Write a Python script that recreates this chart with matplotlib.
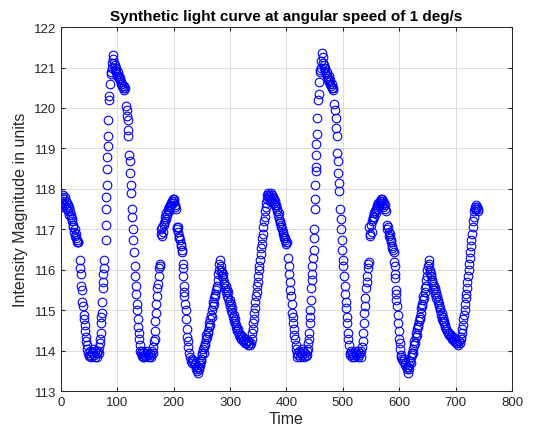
import matplotlib
matplotlib.use("Agg")
import matplotlib.pyplot as plt
import numpy as np

# (time, intensity) pairs, first rotation
rotation_1 = [
    (0, 117.55), (1, 117.8), (2, 117.7), (3, 117.85), (4, 117.65), (5, 117.75), (6, 117.6), (7, 117.8),
    (8, 117.7), (9, 117.55), (10, 117.65), (11, 117.5), (12, 117.6), (13, 117.45), (14, 117.55), (15, 117.35),
    (16, 117.45), (17, 117.3), (18, 117.35), (19, 117.2), (20, 117.25), (21, 117.1), (22, 117.05), (23, 116.95),
    (24, 117.0), (25, 116.85), (26, 116.9), (27, 116.8), (28, 116.75), (29, 116.7), (30, 116.68), (31, 116.7),
    (33, 116.25), (34, 116.05), (35, 115.9), (36, 115.6), (37, 115.5), (38, 115.2), (39, 115.1), (40, 114.9),
    (41, 114.8), (42, 114.65), (43, 114.5), (44, 114.35), (45, 114.25), (46, 114.15), (47, 114.05), (48, 113.95),
    (49, 113.88), (51, 113.9), (52, 114.0), (54, 113.85), (55, 113.95), (57, 114.05), (58, 113.9), (60, 114.0),
    (61, 113.85), (63, 113.95), (64, 113.85), (66, 114.0), (67, 113.95), (68, 114.1), (69, 114.2), (70, 114.3),
    (70.5, 114.45), (71, 114.7), (71.5, 114.85), (72, 114.95), (73, 115.2), (74, 115.55), (74.5, 115.7), (75, 115.9),
    (76, 116.05), (77, 116.25), (79, 116.75), (79.5, 117.1), (80, 117.5), (80.5, 117.8), (81, 118.1), (81.5, 118.5),
    (82, 118.8), (82.5, 119.05), (83, 119.3), (83.5, 119.7), (85, 120.2), (86, 120.3), (87, 120.6), (88, 120.9),
    (89, 120.85), (90, 121.1), (91, 121.0), (92, 121.3), (93, 121.2), (94, 121.1), (95, 120.95), (96, 121.05),
    (97, 120.9), (98, 121.0), (99, 120.8), (100, 120.85), (101, 120.9), (102, 120.75), (103, 120.8), (104, 120.7),
    (105, 120.75), (106, 120.6), (107, 120.65), (108, 120.55), (109, 120.6), (110, 120.5), (111, 120.55), (112, 120.45),
    (113, 120.5), (116, 120.05), (116.5, 119.95), (117, 119.8), (118, 119.7), (119, 119.45), (119.5, 119.3), (121, 118.85),
    (122, 118.7), (123, 118.4), (124, 118.1), (125, 117.9), (126, 117.5), (126.5, 117.3), (127.5, 117.0), (128, 116.75),
    (129.5, 116.45), (130.5, 116.1), (131.5, 115.85), (132.5, 115.6), (133, 115.4), (134, 115.15), (135, 115.0), (136, 114.8),
    (137, 114.6), (138, 114.45), (139, 114.3), (140, 114.15), (141, 114.0), (142, 113.95), (143, 113.88), (144, 114.0),
    (145, 113.85), (146, 113.95), (147, 113.9), (148, 113.85), (150, 113.95), (151, 113.88), (153, 114.0), (154, 113.9),
    (156, 113.85), (157, 113.95), (159, 113.9), (160, 113.85), (162, 114.0), (163, 113.95), (164, 114.1), (165, 114.25),
    (166, 114.3), (166.5, 114.5), (167, 114.75), (168, 114.95), (169, 115.15), (170, 115.35), (171, 115.55), (172, 115.65),
    (173, 115.85), (174, 116.05), (175, 116.1), (176, 116.15), (177, 117.0), (178, 116.9), (179, 116.85), (180, 117.05),
    (181, 116.95), (182, 117.1), (183, 117.15), (184, 117.2), (185, 117.3), (186, 117.25), (187, 117.4), (188, 117.35),
    (189, 117.45), (190, 117.5), (191, 117.55), (192, 117.45), (193, 117.6), (194, 117.55), (195, 117.65), (196, 117.6),
    (197, 117.7), (198, 117.65), (199, 117.75), (200, 117.7), (201, 117.75), (202, 117.6), (203, 117.55), (204, 117.5),
    (205, 117.05), (206, 117.0), (207, 117.05), (208, 116.95), (209, 116.85), (210, 116.8), (211, 116.75), (212, 116.65),
    (213, 116.6), (214, 116.5), (215, 116.45), (216, 116.15), (216.5, 116.05), (217, 115.85), (218, 115.6), (218.5, 115.45),
    (219, 115.35), (220, 115.15), (221, 115.0), (222, 114.8), (223, 114.55), (224, 114.35), (225, 114.25), (226, 114.1),
    (227, 113.95), (228, 113.85), (230, 113.75), (232, 113.8), (233, 113.7), (235, 113.75), (237, 113.65), (238, 113.7),
    (240, 113.55), (241, 113.6), (242, 113.5), (243, 113.45), (244, 113.6), (245, 113.55), (246, 113.65), (247, 113.7),
    (248, 113.8), (249, 113.75), (250, 113.9), (251, 113.95), (252, 114.05), (253, 113.95), (254, 114.1), (255, 114.2),
    (256, 114.15), (257, 114.3), (258, 114.4), (259, 114.35), (260, 114.5), (261, 114.45), (262, 114.6), (263, 114.7),
    (264, 114.65), (265, 114.8), (266, 114.9), (267, 114.85), (268, 115.0), (269, 115.1), (270, 115.2), (271, 115.15),
    (272, 115.3), (273, 115.4), (274, 115.35), (275, 115.5), (276, 115.6), (277, 115.55), (278, 115.75), (279, 115.9),
    (280, 116.0), (281, 116.15), (282, 116.25), (283, 116.1), (284, 116.0), (285, 115.95), (286, 115.85), (287, 115.8),
    (288, 115.9), (289, 115.7), (290, 115.65), (291, 115.55), (292, 115.6), (293, 115.45), (294, 115.5), (295, 115.35),
    (296, 115.3), (297, 115.45), (298, 115.2), (299, 115.25), (300, 115.1), (301, 115.15), (302, 115.0), (303, 114.95),
    (304, 115.05), (305, 114.85), (306, 114.9), (307, 114.75), (308, 114.8), (309, 114.7), (310, 114.6), (311, 114.65),
    (312, 114.55), (313, 114.5), (314, 114.55), (315, 114.45), (316, 114.4), (318, 114.35), (319, 114.4), (320, 114.3),
    (322, 114.35), (323, 114.25), (325, 114.3), (326, 114.2), (328, 114.25), (329, 114.2), (331, 114.15), (332, 114.25),
    (334, 114.2), (335, 114.15), (337, 114.2), (338, 114.3), (339, 114.45), (340, 114.55), (341, 114.7), (342, 114.8),
    (343, 114.95), (344, 115.05), (345, 115.2), (346, 115.35), (347, 115.45), (348, 115.6), (349, 115.7), (350, 115.85),
    (351, 116.0), (352, 116.1), (353, 116.25), (354, 116.4), (355, 116.55), (356, 116.65), (357, 116.8), (358, 116.9),
    (359, 117.05), (360, 117.2), (361, 117.3), (362, 117.45), (363, 117.55), (364, 117.65), (365, 117.75), (366, 117.85),
    (367, 117.9), (368, 117.8), (369, 117.85), (370, 117.7),
]

# second rotation
rotation_2 = [
    (371, 117.8), (372, 117.9), (373, 117.75), (374, 117.85), (375, 117.7), (376, 117.8), (377, 117.65), (378, 117.75),
    (379, 117.6), (380, 117.7), (381, 117.55), (382, 117.6), (383, 117.45), (384, 117.5), (385, 117.35), (386, 117.4),
    (387, 117.25), (388, 117.2), (389, 117.15), (390, 117.1), (391, 117.05), (392, 117.0), (393, 116.95), (394, 116.9),
    (395, 116.85), (396, 116.8), (397, 116.75), (398, 116.8), (399, 116.7), (400, 116.65), (401, 116.7), (403, 116.3),
    (404, 116.1), (405, 115.9), (406, 115.7), (407, 115.5), (408, 115.35), (409, 115.15), (410, 114.95), (411, 114.85),
    (412, 114.7), (413, 114.55), (414, 114.4), (415, 114.3), (416, 114.15), (417, 114.05), (418, 113.95), (419, 113.85),
    (421, 113.9), (422, 114.0), (424, 113.85), (425, 113.95), (427, 114.05), (428, 113.9), (430, 114.0), (431, 113.85),
    (433, 113.95), (434, 113.88), (436, 114.0), (437, 113.9), (438, 114.05), (439, 114.2), (440, 114.3), (440.5, 114.45),
    (441, 114.7), (441.5, 114.85), (442, 115.0), (443, 115.25), (444, 115.55), (444.5, 115.75), (445, 115.9), (446, 116.1),
    (447, 116.3), (448, 116.5), (449, 116.8), (449.5, 117.0), (450, 117.5), (450.5, 117.75), (451, 118.1), (451.5, 118.45),
    (452, 118.55), (452.5, 118.85), (453, 119.1), (453.5, 119.35), (454, 119.75), (456, 120.2), (457, 120.35), (458, 120.65),
    (459, 120.95), (460, 120.9), (461, 121.15), (462, 121.0), (463, 121.35), (464, 121.25), (465, 121.1), (466, 121.0),
    (467, 121.05), (468, 120.9), (469, 121.0), (470, 120.85), (471, 120.8), (472, 120.9), (473, 120.75), (474, 120.7),
    (475, 120.8), (476, 120.65), (477, 120.6), (478, 120.7), (479, 120.55), (480, 120.5), (481, 120.6), (482, 120.45),
    (483, 120.5), (485, 120.1), (486, 119.95), (487, 119.75), (488, 119.5), (489, 119.3), (490, 118.9), (491, 118.7),
    (492, 118.4), (493, 118.15), (494, 117.95), (495, 117.5), (496, 117.25), (497, 117.0), (498, 116.75), (499, 116.5),
    (500, 116.25), (501, 116.1), (502, 115.85), (503, 115.6), (504, 115.4), (505, 115.2), (506, 115.05), (507, 114.85),
    (508, 114.7), (509, 114.45), (510, 114.3), (511, 114.15), (512, 113.95), (513, 113.9), (514, 114.0), (516, 113.85),
    (517, 113.95), (518, 113.9), (520, 113.85), (521, 114.0), (523, 113.9), (524, 113.95), (526, 113.85), (527, 114.0),
    (529, 113.9), (530, 113.95), (532, 113.85), (533, 114.0), (534, 114.1), (535, 114.25), (536, 114.45), (537, 114.7),
    (538, 114.95), (539, 115.1), (540, 115.3), (541, 115.55), (542, 115.7), (543, 115.85), (544, 116.05), (545, 116.15),
    (546, 116.2), (547, 117.05), (548, 116.9), (549, 116.85), (550, 117.1), (551, 116.95), (552, 117.2), (553, 117.25),
    (554, 117.3), (555, 117.4), (556, 117.3), (557, 117.45), (558, 117.5), (559, 117.4), (560, 117.55), (561, 117.6),
    (562, 117.5), (563, 117.65), (564, 117.6), (565, 117.7), (566, 117.65), (567, 117.75), (568, 117.7), (569, 117.6),
    (570, 117.75), (571, 117.7), (572, 117.55), (573, 117.65), (574, 117.5), (575, 117.6), (576, 117.45), (578, 117.1),
    (579, 117.0), (580, 117.05), (581, 116.95), (582, 116.85), (583, 116.9), (584, 116.8), (585, 116.75), (586, 116.7),
    (587, 116.6), (588, 116.55), (589, 116.5), (590, 116.45), (591, 116.2), (592, 116.1), (592.5, 115.9), (593, 115.8),
    (594, 115.5), (594.5, 115.4), (595, 115.25), (596, 115.1), (597, 114.9), (598, 114.7), (599, 114.5), (600, 114.3),
    (601, 114.2), (602, 114.05), (603, 113.9), (604, 113.85), (605, 113.8), (607, 113.75), (608, 113.8), (610, 113.7),
    (611, 113.65), (613, 113.6), (614, 113.55), (615, 113.45), (616, 113.6), (617, 113.55), (618, 113.65), (619, 113.75),
    (620, 113.7), (621, 113.85), (622, 113.9), (623, 113.95), (624, 114.05), (625, 113.95), (626, 114.15), (627, 114.25),
    (628, 114.2), (629, 114.35), (630, 114.45), (631, 114.4), (632, 114.55), (633, 114.65), (634, 114.6), (635, 114.75),
    (636, 114.85), (637, 114.8), (638, 114.95), (639, 115.05), (640, 115.15), (641, 115.1), (642, 115.25), (643, 115.35),
    (644, 115.3), (645, 115.45), (646, 115.55), (647, 115.6), (648, 115.75), (649, 115.85), (650, 116.0), (651, 116.1),
    (652, 116.25), (653, 116.15), (654, 116.0), (655, 115.95), (656, 115.85), (657, 115.9), (658, 115.75), (659, 115.7),
    (660, 115.65), (661, 115.6), (662, 115.5), (663, 115.55), (664, 115.4), (665, 115.45), (666, 115.3), (667, 115.35),
    (668, 115.2), (669, 115.25), (670, 115.1), (671, 115.15), (672, 115.0), (673, 115.05), (674, 114.9), (675, 114.95),
    (676, 114.8), (677, 114.85), (678, 114.75), (679, 114.7), (680, 114.75), (681, 114.6), (682, 114.65), (683, 114.55),
    (685, 114.5), (686, 114.45), (688, 114.4), (689, 114.45), (691, 114.35), (692, 114.4), (694, 114.3), (695, 114.35),
    (697, 114.25), (698, 114.3), (700, 114.2), (701, 114.25), (703, 114.2), (704, 114.15), (706, 114.25), (707, 114.2),
    (709, 114.3), (710, 114.35), (711, 114.45), (712, 114.55), (713, 114.65), (714, 114.8), (715, 114.9), (716, 115.0),
    (717, 115.15), (718, 115.3), (719, 115.4), (720, 115.55), (721, 115.7), (722, 115.85), (723, 116.0), (724, 116.15),
    (725, 116.3), (726, 116.45), (727, 116.6), (728, 116.75), (729, 116.9), (730, 117.05), (731, 117.2), (732, 117.3),
    (733, 117.45), (734, 117.5), (735, 117.55), (736, 117.6), (737, 117.5), (738, 117.55), (739, 117.45), (740, 117.5),
]

x_ticks = [0, 100, 200, 300, 400, 500, 600, 700, 800]
y_ticks = [113, 114, 115, 116, 117, 118, 119, 120, 121, 122]

data = np.array(rotation_1 + rotation_2)
time, intensity = data[:, 0], data[:, 1]

plt.rcParams['font.family'] = ['Liberation Sans', 'DejaVu Sans']

fig = plt.figure(figsize=(5.37, 4.39), dpi=100)
ax = fig.add_axes([0.1136, 0.106, 0.8398, 0.8302])

ax.plot(time, intensity, 'o', mfc='none', mec='#0000ff', ms=6.2, mew=0.8)

ax.set_xlim(0, 800)
ax.set_ylim(113, 122)
ax.set_xticks(x_ticks)
ax.set_yticks(y_ticks)
ax.grid(True, color='#dcdcdc', linewidth=0.7)
ax.set_axisbelow(True)
ax.tick_params(direction='in', length=3, labelsize=9.5, colors='#262626', top=True, right=True,
               labeltop=False, labelright=False)
for s in ax.spines.values():
    s.set_color('#262626')
    s.set_linewidth(0.7)

ax.set_xlabel('Time', fontsize=11.5, color='#262626', labelpad=2)
ax.set_ylabel('Intensity Magnitude in units', fontsize=11.5, color='#262626', labelpad=4)
ax.set_title('Synthetic light curve at angular speed of 1 deg/s', fontsize=11, fontweight='bold', pad=5)

fig.savefig('out.png', dpi=100)
